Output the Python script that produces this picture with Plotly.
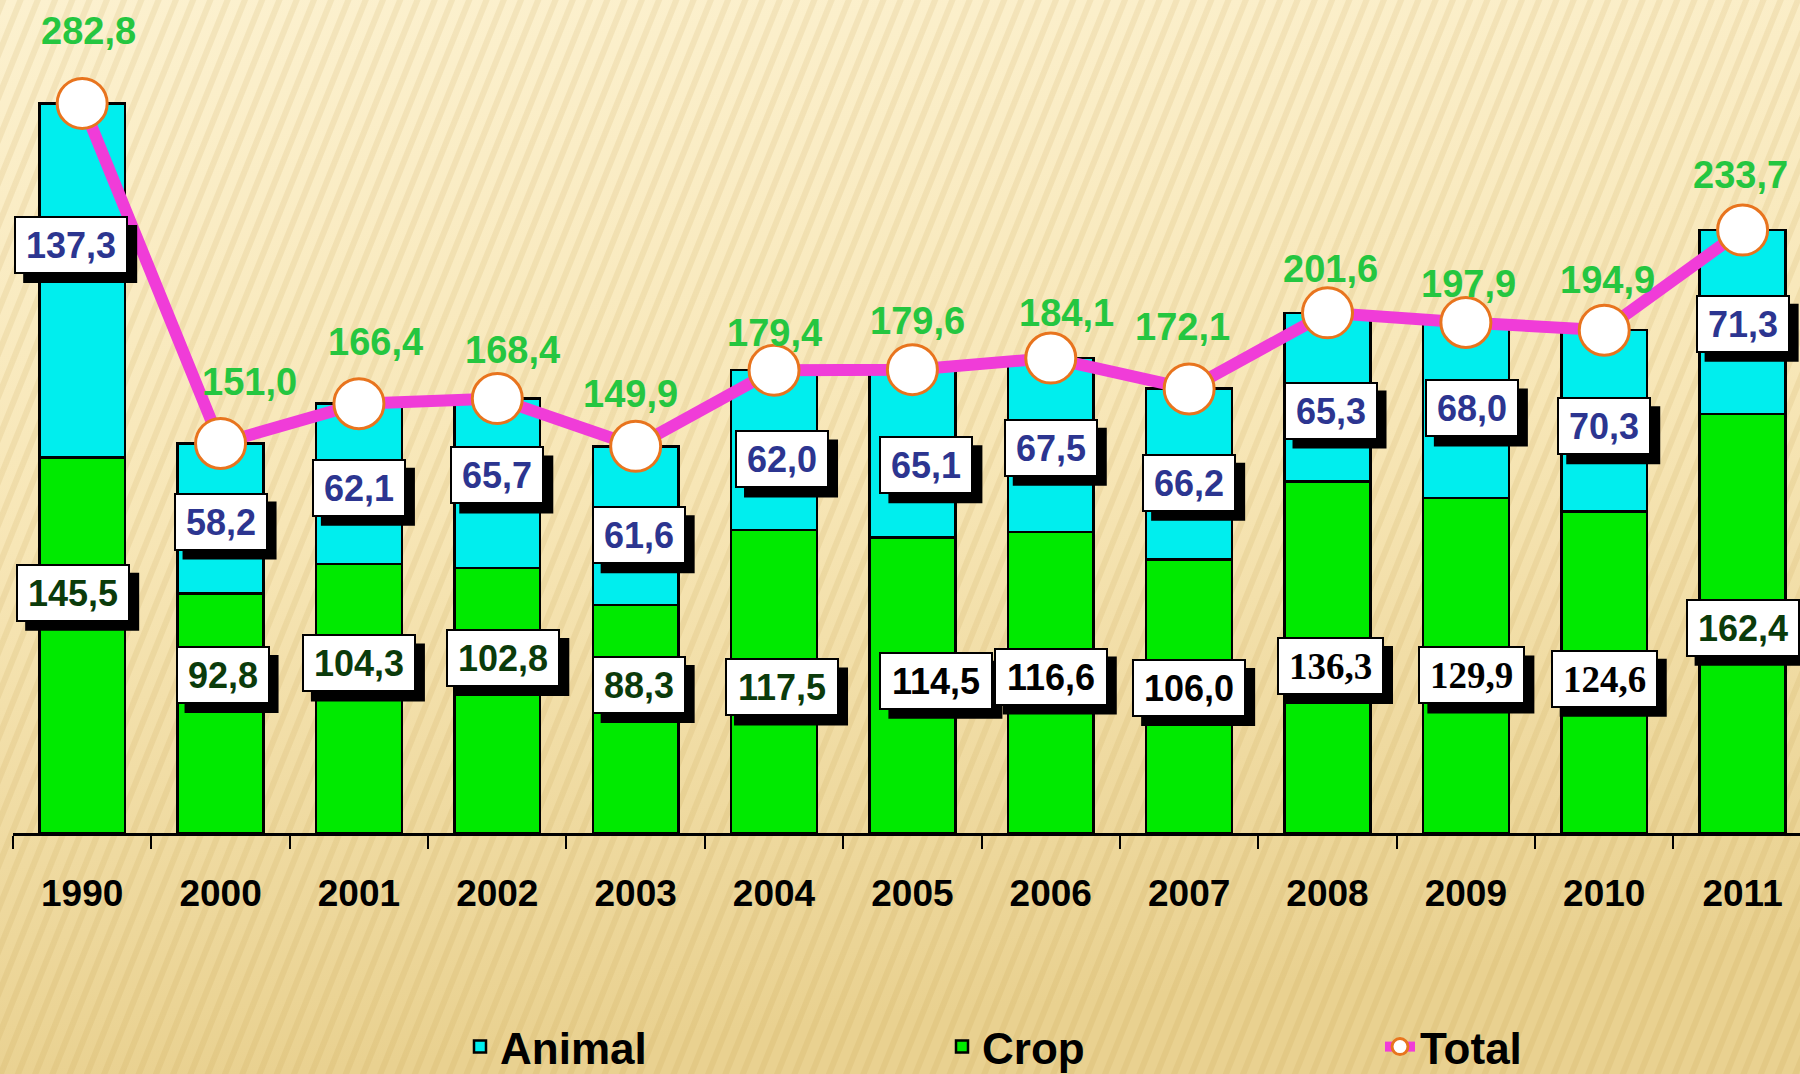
import base64
import plotly.graph_objects as go

# ---------------- data ----------------
years = ["1990", "2000", "2001", "2002", "2003", "2004", "2005",
         "2006", "2007", "2008", "2009", "2010", "2011"]
animal = [137.3, 58.2, 62.1, 65.7, 61.6, 62.0, 65.1, 67.5, 66.2, 65.3, 68.0, 70.3, 71.3]
crop = [145.5, 92.8, 104.3, 102.8, 88.3, 117.5, 114.5, 116.6, 106.0, 136.3, 129.9, 124.6, 162.4]
total = [282.8, 151.0, 166.4, 168.4, 149.9, 179.4, 179.6, 184.1, 172.1, 201.6, 197.9, 194.9, 233.7]

# ---------------- label placement / style (not data) ----------------
animal_frac = [0.60, 0.48, 0.475, 0.545, 0.44, 0.44, 0.43, 0.485, 0.45, 0.42, 0.51, 0.47, 0.49]
crop_frac = [0.64, 0.66, 0.63, 0.66, 0.65, 0.48, 0.515, 0.52, 0.53, 0.475, 0.47, 0.48, 0.49]
animal_xshift = [-11, 0, 0, 0, 3, 8, 14, 0, 0, 3, 6, 0, 0]
crop_xshift = [-9, 2, 0, 6, 3, 8, 24, 0, 0, 3, 6, 0, 0]
total_yshift = [72, 61, 62, 49, 52, 37, 49, 45, 62, 44, 38, 50, 55]
total_xshift = [6, 29, 17, 15, -5, 0, 5, 16, -7, 3, 3, 3, -2]
crop_style = ["g", "g", "g", "g", "g", "g", "k", "k", "k", "s", "s", "s", "g"]

W, H = 1800, 1074
ML, MR, MT, MB = 13, 0, 20, 241
PW, PH = W - ML - MR, H - MT - MB

SANS = "Liberation Sans, Arial, Helvetica, sans-serif"
SERIF = "Liberation Serif, Times New Roman, serif"

C_ANIMAL = "#00EEEE"
C_CROP = "#00EA00"
C_LINE = "#F03CD8"
C_TOTAL_TXT = "#25C640"
C_ANIMAL_TXT = "#2C3590"
C_CROP_TXT = "#0B3B0B"

BOX_H = 38
BOX_PAD = 8
BOX_BW = 2
SHADOW = 9


def fmt(v):
    return f"{v:.1f}".replace(".", ",")


def text_width(s, size, serif=False):
    w = 0.0
    for ch in s:
        if ch.isdigit():
            w += 0.5 if serif else 0.556
        else:
            w += 0.25 if serif else 0.278
    return w * size


fig = go.Figure()

fig.add_trace(go.Bar(
    x=years, y=crop, name="Crop", legend="legend2",
    width=0.62,
    marker=dict(color=C_CROP, line=dict(color="black", width=2.5)),
    hoverinfo="skip",
))
fig.add_trace(go.Bar(
    x=years, y=animal, name="Animal", legend="legend",
    width=0.62,
    marker=dict(color=C_ANIMAL, line=dict(color="black", width=2.5)),
    hoverinfo="skip",
))
fig.add_trace(go.Scatter(
    x=years, y=total, name="Total", legend="legend3",
    mode="lines+markers",
    line=dict(color=C_LINE, width=12),
    marker=dict(size=50, color="white", line=dict(color="#E8741E", width=3)),
    hoverinfo="skip",
))

annotations = []
shapes = []


def boxed(i, y, xs, text, color, family, size, serif=False):
    tw = round(text_width(text, size, serif)) + 4
    outer_w = tw + 2 * (BOX_PAD + BOX_BW)
    outer_h = BOX_H + 2 * (BOX_PAD + BOX_BW)
    # drop shadow of the label box
    shapes.append(dict(
        type="rect", xref="x", yref="y",
        xsizemode="pixel", ysizemode="pixel", xanchor=i, yanchor=y,
        x0=xs - outer_w / 2 + SHADOW, x1=xs + outer_w / 2 + SHADOW,
        y0=-outer_h / 2 - SHADOW, y1=outer_h / 2 - SHADOW,
        fillcolor="black", line=dict(width=0), layer="above",
    ))
    annotations.append(dict(
        x=i, y=y, xref="x", yref="y", showarrow=False, xshift=xs,
        text=text, width=tw, height=BOX_H, borderpad=BOX_PAD, borderwidth=BOX_BW,
        bgcolor="white", bordercolor="black",
        font=dict(family=family, size=size, weight="bold", color=color),
    ))


for i in range(len(years)):
    boxed(i, crop[i] + animal[i] * animal_frac[i], animal_xshift[i],
          fmt(animal[i]), C_ANIMAL_TXT, SANS, 36)
    st = crop_style[i]
    yc = crop[i] * crop_frac[i]
    if st == "g":
        boxed(i, yc, crop_xshift[i], fmt(crop[i]), C_CROP_TXT, SANS, 36)
    elif st == "k":
        boxed(i, yc, crop_xshift[i], fmt(crop[i]), "black", SANS, 36)
    else:
        boxed(i, yc, crop_xshift[i], fmt(crop[i]), "black", SERIF, 37, serif=True)
    annotations.append(dict(
        x=i, y=total[i], xref="x", yref="y", showarrow=False,
        text=fmt(total[i]), yshift=total_yshift[i], xshift=total_xshift[i],
        font=dict(family=SANS, size=38, weight="bold", color=C_TOTAL_TXT),
    ))

# ---------------- background (gradient + diagonal stripes) ----------------
svg = f'''<svg xmlns="http://www.w3.org/2000/svg" width="{W}" height="{H}" viewBox="0 0 {W} {H}" preserveAspectRatio="none">
<defs>
<linearGradient id="g" x1="0" y1="0" x2="0.15" y2="1">
<stop offset="0" stop-color="#FCF1CF"/>
<stop offset="0.5" stop-color="#F7E6B6"/>
<stop offset="1" stop-color="#E9D190"/>
</linearGradient>
<pattern id="p" width="16" height="16" patternUnits="userSpaceOnUse" patternTransform="rotate(22)">
<rect width="6" height="16" fill="#B8903C" fill-opacity="0.13"/>
</pattern>
</defs>
<rect width="{W}" height="{H}" fill="url(#g)"/>
<rect width="{W}" height="{H}" fill="url(#p)"/>
</svg>'''
bg_src = "data:image/svg+xml;base64," + base64.b64encode(svg.encode()).decode()

legend_common = dict(orientation="h", yanchor="middle", xanchor="left",
                     bgcolor="rgba(0,0,0,0)",
                     font=dict(family=SANS, size=44, weight="bold", color="black"))


def lx(px):
    return (px - ML) / PW


ly = ((H - MB) - 1047) / PH

fig.update_layout(
    width=W, height=H,
    margin=dict(l=ML, r=MR, t=MT, b=MB, pad=0, autoexpand=False),
    paper_bgcolor="#EBD395",
    plot_bgcolor="rgba(0,0,0,0)",
    barmode="stack",
    showlegend=True,
    legend=dict(x=lx(460), y=ly, **legend_common),
    legend2=dict(x=lx(942), y=ly, **legend_common),
    legend3=dict(x=lx(1380), y=ly, **legend_common),
    annotations=annotations,
    shapes=shapes,
    images=[dict(source=bg_src, xref="paper", yref="paper",
                 x=-ML / PW, y=1 + MT / PH, sizex=W / PW, sizey=H / PH,
                 xanchor="left", yanchor="top", sizing="stretch", layer="below")],
    xaxis=dict(
        type="category",
        range=[-0.5, 12.5 - 11.8 / 138.4],
        showline=True, linecolor="black", linewidth=2.5,
        ticks="outside", tickson="boundaries", ticklen=13, tickwidth=2, tickcolor="black",
        showgrid=False, zeroline=False,
        ticklabelstandoff=26,
        tickfont=dict(family=SANS, size=37, weight="bold", color="black"),
    ),
    yaxis=dict(visible=False, range=[0, PH / 2.58], showgrid=False, zeroline=False),
)

fig.write_html(
    "out.html",
    config={"displayModeBar": False},
    post_script="document.body.style.margin='0';document.body.style.background='#EBD395';"
                "document.documentElement.style.background='#EBD395';",
)
